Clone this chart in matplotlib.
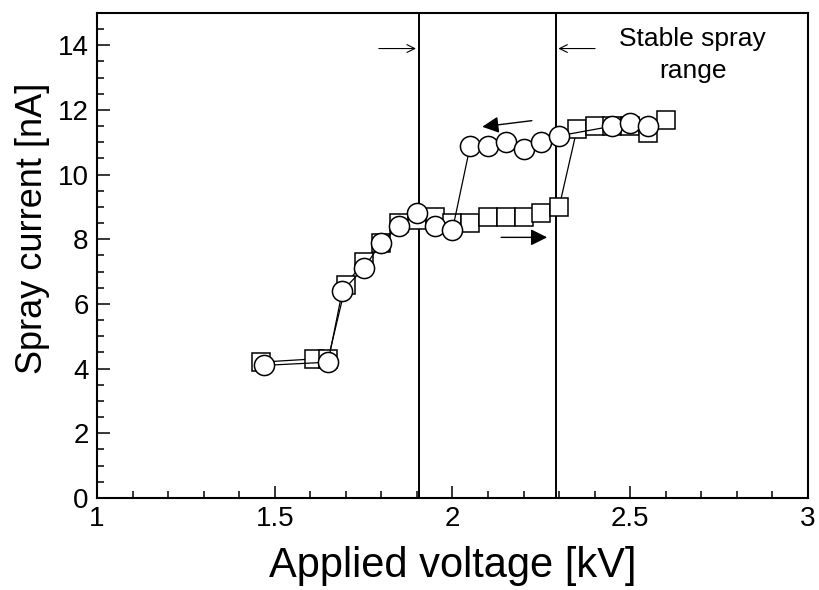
import matplotlib
matplotlib.use('Agg')
import matplotlib.pyplot as plt
from matplotlib.ticker import MultipleLocator

plt.rcParams['font.family'] = ['Liberation Sans', 'DejaVu Sans']

# increasing voltage (squares)
v_up = [1.46, 1.61, 1.65, 1.70, 1.75, 1.80, 1.85, 1.90, 1.95, 2.00, 2.05,
        2.10, 2.15, 2.20, 2.25, 2.30, 2.35, 2.40, 2.45, 2.50, 2.55, 2.60]
i_up = [4.2, 4.3, 4.3, 6.6, 7.3, 7.9, 8.5, 8.6, 8.7, 8.5, 8.5,
        8.7, 8.7, 8.7, 8.8, 9.0, 11.4, 11.5, 11.5, 11.5, 11.3, 11.7]

# decreasing voltage (circles)
v_down = [1.47, 1.65, 1.69, 1.75, 1.80, 1.85, 1.90, 1.95, 2.00, 2.05,
          2.10, 2.15, 2.20, 2.25, 2.30, 2.45, 2.50, 2.55]
i_down = [4.1, 4.2, 6.4, 7.1, 7.9, 8.4, 8.8, 8.4, 8.3, 10.9,
          10.9, 11.0, 10.8, 11.0, 11.2, 11.5, 11.6, 11.5]

stable_lo, stable_hi = 1.905, 2.29

fig = plt.figure(figsize=(8.19, 5.90), dpi=100)
ax = fig.add_axes([0.1185, 0.156, 0.868, 0.822])

ax.axvline(stable_lo, color='black', lw=1.4, zorder=1)
ax.axvline(stable_hi, color='black', lw=1.4, zorder=1)

ax.plot(v_up, i_up, color='black', lw=0.9, marker='s', ms=13,
        mfc='white', mec='black', mew=1.1, zorder=3)
ax.plot(v_down, i_down, color='black', lw=0.9, marker='o', ms=14.5,
        mfc='white', mec='black', mew=1.1, zorder=4)

# direction arrows
ax.annotate('', xy=(2.076, 11.47), xytext=(2.231, 11.68),
            arrowprops=dict(arrowstyle='-|>', color='black', lw=1, mutation_scale=25))
ax.annotate('', xy=(2.274, 8.06), xytext=(2.129, 8.06),
            arrowprops=dict(arrowstyle='-|>', color='black', lw=1, mutation_scale=25))

# stable range markers
ax.annotate('', xy=(stable_lo, 13.9), xytext=(1.785, 13.9),
            arrowprops=dict(arrowstyle='->', color='black', lw=0.8, mutation_scale=14))
ax.annotate('', xy=(stable_hi, 13.9), xytext=(2.409, 13.9),
            arrowprops=dict(arrowstyle='->', color='black', lw=0.8, mutation_scale=14))
ax.text(2.676, 13.7, 'Stable spray\nrange', ha='center', va='center',
        fontsize=19, linespacing=1.4)

ax.set_xlim(1, 3)
ax.set_ylim(0, 15)
ax.xaxis.set_minor_locator(MultipleLocator(0.1))
ax.yaxis.set_major_locator(MultipleLocator(2))
ax.yaxis.set_minor_locator(MultipleLocator(0.5))
ax.set_xticks([1, 1.5, 2, 2.5, 3])
ax.set_xticklabels(['1', '1.5', '2', '2.5', '3'])
ax.tick_params(which='both', direction='in', top=False, right=False, width=1.1)
ax.tick_params(which='major', length=9, labelsize=20, pad=6)
ax.tick_params(which='minor', length=5)
for s in ax.spines.values():
    s.set_linewidth(1.5)

ax.set_xlabel('Applied voltage [kV]', fontsize=30, labelpad=10)
ax.set_ylabel('Spray current [nA]', fontsize=26)
ax.yaxis.set_label_coords(-0.066, 0.555)

fig.savefig('out.png', dpi=100)
